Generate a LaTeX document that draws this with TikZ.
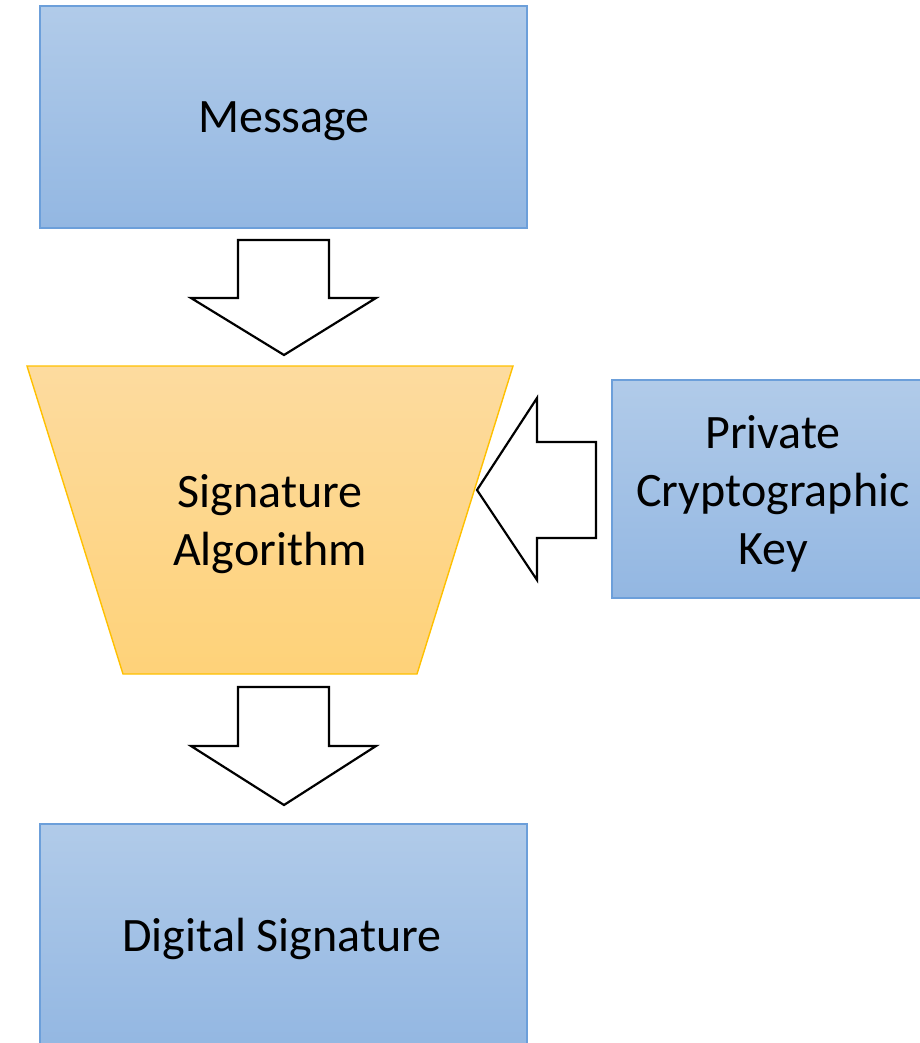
\documentclass[tikz,border=0pt]{standalone}
\usepackage{fontspec}
\setmainfont{Carlito}
\usetikzlibrary{calc}
\definecolor{boxtop}{HTML}{B1CBE9}
\definecolor{boxbot}{HTML}{93B7E2}
\definecolor{boxline}{HTML}{6C9FDA}
\definecolor{algtop}{HTML}{FDDB9F}
\definecolor{algbot}{HTML}{FED279}
\definecolor{algline}{HTML}{FFC000}
\tikzset{
  infobox/.style={rectangle, inner sep=0pt, top color=boxtop, bottom color=boxbot,
    draw=boxline, line width=1.6pt, align=center},
  label text/.style={font=\fontsize{48}{58}\selectfont, align=center, inner sep=0pt},
  blockarrow/.style={draw=black, fill=white, line width=2.2pt, line join=miter}
}
\begin{document}
\begin{tikzpicture}[x=1pt,y=-1pt]
\useasboundingbox (0,0) rectangle (919,1043);

% input and output boxes
\node[infobox, minimum width=487pt, minimum height=222pt] (msg) at (283.5,117) {};
\node[label text] (msgtext) at (284,121) {Message};

\node[infobox, minimum width=310pt, minimum height=218pt] (key) at (767,489) {};
\node[label text] (keytext) at (773,494) {Private\\Cryptographic\\Key};

\node[infobox, minimum width=487pt, minimum height=224pt] (sig) at (283.5,936) {};
\node[label text] (sigtext) at (282,939) {Digital Signature};

% the signature algorithm as a funnel-shaped trapezium
\coordinate (atl) at (27,366);
\coordinate (atr) at (513,366);
\coordinate (abr) at (417,674);
\coordinate (abl) at (123,674);
\path[top color=algtop, bottom color=algbot, draw=algline, line width=1.4pt]
  (atl) -- (atr) -- (abr) -- (abl) -- cycle;
\node[label text] (alg) at (270,524) {Signature\\Algorithm};

% block arrow: message into algorithm
\coordinate (a1) at (284,240);
\draw[blockarrow] ($(a1)+(-46,0)$) -- ($(a1)+(45,0)$) -- ($(a1)+(45,58)$) -- ($(a1)+(92,58)$)
  -- ($(a1)+(0,115)$) -- ($(a1)+(-93,58)$) -- ($(a1)+(-46,58)$) -- cycle;

% block arrow: algorithm into signature
\coordinate (a2) at (284,687);
\draw[blockarrow] ($(a2)+(-46,0)$) -- ($(a2)+(45,0)$) -- ($(a2)+(45,59)$) -- ($(a2)+(92,59)$)
  -- ($(a2)+(0,118)$) -- ($(a2)+(-93,59)$) -- ($(a2)+(-46,59)$) -- cycle;

% block arrow: key into algorithm
\coordinate (a3) at (596,490);
\draw[blockarrow] ($(a3)+(0,-48)$) -- ($(a3)+(-59,-48)$) -- ($(a3)+(-59,-92)$) -- ($(a3)+(-119,0)$)
  -- ($(a3)+(-59,90)$) -- ($(a3)+(-59,48)$) -- ($(a3)+(0,48)$) -- cycle;
\end{tikzpicture}
\end{document}
